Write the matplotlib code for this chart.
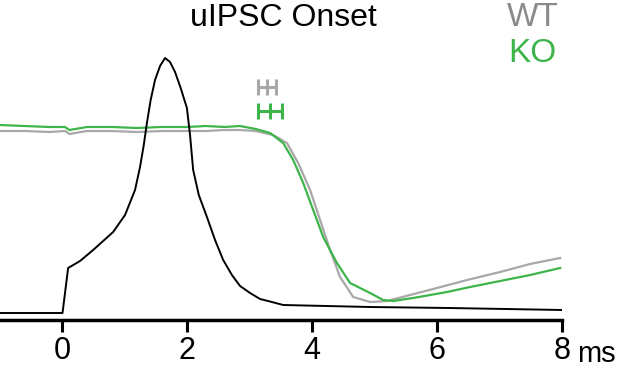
import matplotlib

matplotlib.use("Agg")
import matplotlib.pyplot as plt

# time axis in ms, current in arbitrary units (0 = axis line)
stim_t = [-0.99, 0.01, 0.10, 0.29, 0.50, 0.82, 1.01, 1.17, 1.25, 1.31, 1.36,
          1.42, 1.49, 1.57, 1.65, 1.73, 1.81, 1.90, 2.00, 2.05, 2.10, 2.19,
          2.32, 2.45, 2.58, 2.72, 2.85, 3.01, 3.17, 3.36, 3.54, 4.93, 6.20, 8.00]
stim_y = [7, 7, 52, 59, 70, 88, 105, 130, 153, 175, 197,
          220, 240, 254, 262, 258, 248, 232, 212, 185, 150, 125,
          103, 80, 60, 45, 34, 27, 21, 18, 15, 13, 12, 10]

ko_t = [-0.99, -0.6, -0.2, 0.05, 0.12, 0.4, 0.8, 1.2, 1.6, 2.0, 2.3, 2.6, 2.85,
        3.10, 3.33, 3.54, 3.70, 3.86, 4.02, 4.18, 4.40, 4.61, 4.93, 5.14, 5.30,
        5.62, 6.16, 6.53, 7.01, 7.49, 7.97]
ko_y = [195, 194, 193, 193, 190, 193, 193, 192, 193, 193, 194, 193, 194,
        191, 187, 177, 160, 137, 110, 83, 57, 37, 27, 20, 19,
        22, 28, 33, 39, 45, 52]

wt_t = [-0.99, -0.6, -0.2, 0.05, 0.12, 0.4, 0.8, 1.2, 1.6, 2.0, 2.3, 2.6, 2.85,
        3.10, 3.38, 3.60, 3.78, 3.97, 4.13, 4.29, 4.45, 4.66, 4.93, 5.20, 5.57,
        6.00, 6.48, 7.01, 7.49, 7.97]
wt_y = [189, 189, 188, 189, 186, 189, 189, 188, 189, 189, 189, 190, 190,
        189, 185, 177, 157, 130, 100, 70, 43, 23, 18, 19, 25,
        32, 40, 48, 56, 62]

# onset mean +/- sem (ms)
onset_mean = {"WT": 3.28, "KO": 3.33}
onset_err = {"WT": 0.14, "KO": 0.19}
onset_row = {"WT": 233, "KO": 209}

xticks = [0, 2, 4, 6, 8]

WT_C = "#a8a8a8"
WT_TXT = "#8a8a8a"
KO_C = "#3db54a"

plt.rcParams["font.family"] = ["Liberation Sans", "DejaVu Sans"]

fig = plt.figure(figsize=(6.17, 3.78), dpi=100)
ax = fig.add_axes([0, 58 / 378, 562 / 617, 320 / 378])

ax.plot(wt_t, wt_y, color=WT_C, lw=1.6, zorder=2)
ax.plot(ko_t, ko_y, color=KO_C, lw=1.6, zorder=3)
ax.plot(stim_t, stim_y, color="k", lw=1.4, zorder=4)

for g, c in (("WT", WT_C), ("KO", KO_C)):
    ax.errorbar(onset_mean[g], onset_row[g], xerr=onset_err[g], fmt="|",
                color=c, ms=12, mew=2.2, elinewidth=2.2, capsize=6, capthick=2.2)

ax.set_xlim(-0.99, 8)
ax.set_ylim(0, 320)
for s in ("top", "right", "left"):
    ax.spines[s].set_visible(False)
ax.spines["bottom"].set_linewidth(2.5)
ax.set_yticks([])
ax.set_xticks(xticks)
ax.set_xticklabels([str(v) for v in xticks], fontsize=22)
ax.tick_params(axis="x", length=8.5, width=2.2, pad=3)

fig.text(577 / 617, 1 - 354 / 378, "ms", fontsize=21, ha="left", va="center")
fig.text(283 / 617, 1 - 18 / 378, "uIPSC Onset", fontsize=23, ha="center", va="center")
fig.text(533 / 617, 1 - 18 / 378, "WT", fontsize=24, color=WT_TXT, ha="center", va="center")
fig.text(532 / 617, 1 - 54 / 378, "KO", fontsize=24, color=KO_C, ha="center", va="center")

fig.savefig("out.png", dpi=100)
